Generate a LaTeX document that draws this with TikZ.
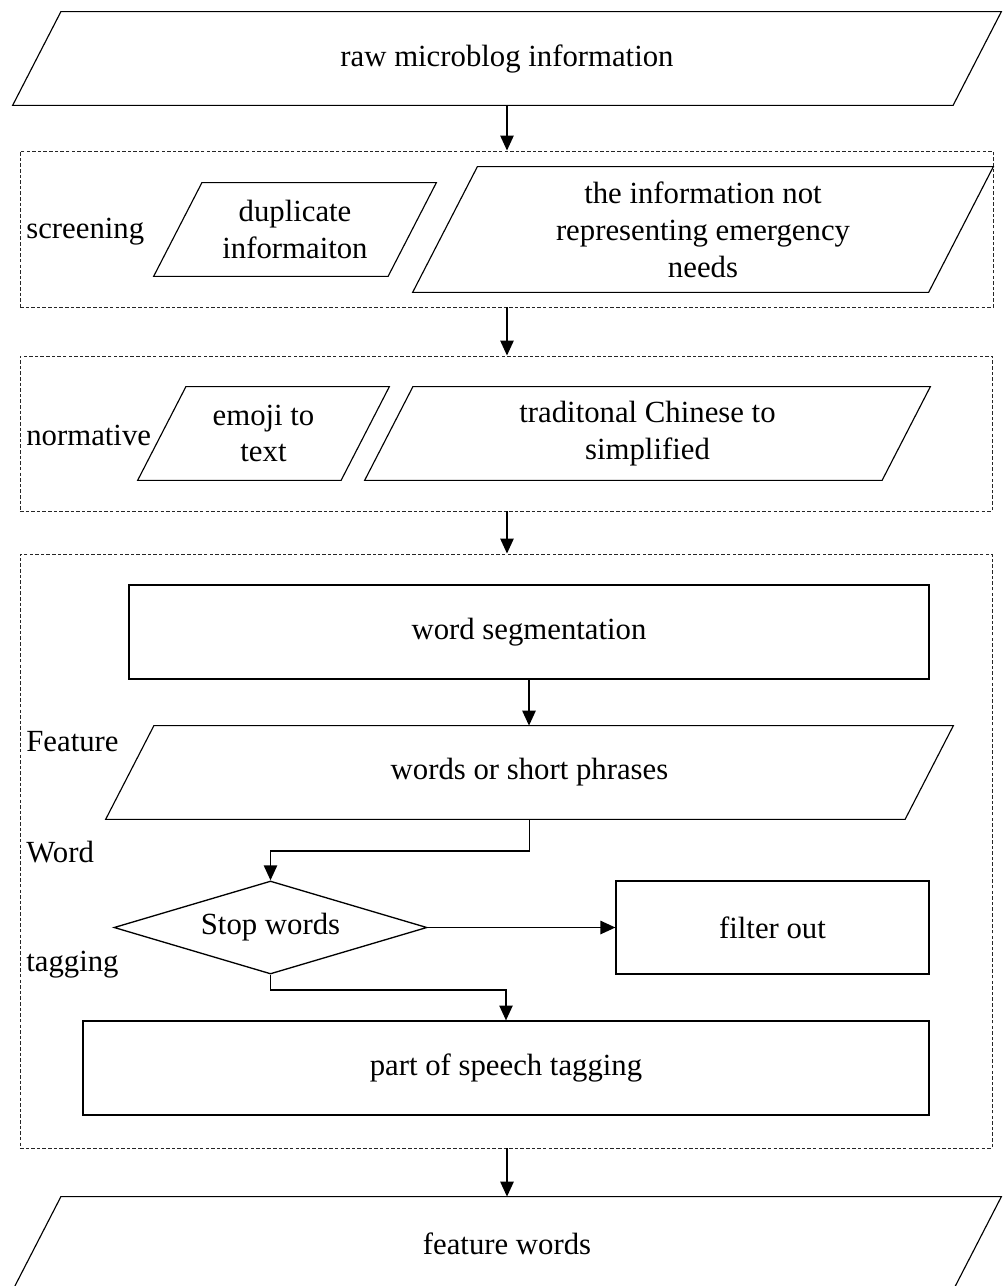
\documentclass[tikz,border=0pt]{standalone}
\usepackage{fontspec}
\setmainfont{Liberation Serif}
\usetikzlibrary{shapes.geometric, arrows.meta, positioning, calc}
\newcommand{\fsz}{\fontsize{17.5}{21}\selectfont}
% parallelogram outline round a named node (top edge shifted right)
\newcommand{\iopath}[1]{%
  \draw[ioline] (#1.south west) -- ($(#1.north west)!0.515!90:(#1.south west)$)
    -- (#1.north east) -- ($(#1.south east)!0.515!90:(#1.north east)$) -- cycle;}
\tikzset{
  iobox/.style={rectangle, minimum height=1.86cm, inner sep=2pt,
                align=center, font=\fsz},
  ioline/.style={draw=black, line width=0.65pt, line join=miter},
  procbox/.style={rectangle, draw=black, line width=0.65pt,
                  minimum height=1.88cm, align=center, font=\fsz},
  decbox/.style={diamond, draw=black, line width=0.75pt, aspect=3.4,
                 minimum width=6.26cm, minimum height=1.86cm, inner sep=0pt, font=\fsz},
  groupbox/.style={rectangle, draw=black!85, line width=0.5pt,
                   dash pattern=on 2pt off 1.2pt},
  sidelabel/.style={anchor=west, inner sep=0pt, font=\fsz},
  link/.style={-{Triangle[length=8.5pt,width=7.5pt]}, line width=1.1pt},
}
\begin{document}
\begin{tikzpicture}
  \useasboundingbox (0,0) rectangle (20.06,-25.72);

  % dashed groups
  \node[groupbox, minimum width=19.46cm, minimum height=3.12cm]  (scrgrp)  at (10.13,-4.58)  {};
  \node[groupbox, minimum width=19.44cm, minimum height=3.1cm]   (normgrp) at (10.12,-8.67)  {};
  \node[groupbox, minimum width=19.44cm, minimum height=11.88cm] (featgrp) at (10.12,-17.02) {};

  % input
  \node[iobox, minimum width=19.76cm] (raw) at (10.14,-1.17) {raw microblog information};

  % screening
  \node[sidelabel] (scrlab) at (0.52,-4.64) {screening};
  \node[iobox, minimum width=5.64cm] (dup) at (5.9,-4.59) {duplicate\\informaiton};
  \node[iobox, minimum width=11.6cm, minimum height=2.5cm]
        (noneed) at (14.06,-4.59) {the information not\\representing emergency\\needs};

  % normative
  \node[sidelabel] (normlab) at (0.52,-8.7) {normative};
  \node[iobox, minimum width=5.02cm] (emoji) at (5.27,-8.67) {emoji to\\text};
  \node[iobox, minimum width=11.3cm] (trad) at (12.95,-8.67) {traditonal Chinese to\\simplified};

  % feature word tagging
  \node[sidelabel] (featlab) at (0.52,-14.84) {Feature};
  \node[sidelabel] (wordlab) at (0.52,-17.04) {Word};
  \node[sidelabel] (taglab)  at (0.52,-19.3)  {tagging};
  \node[procbox, minimum width=16cm] (seg) at (10.58,-12.64) {word segmentation};
  \node[iobox, minimum width=16.94cm] (words) at (10.59,-15.45) {words or short phrases};
  \node[decbox] (stop) at (5.41,-18.55) {Stop words};
  \node[procbox, minimum width=6.26cm, minimum height=1.86cm] (filter) at (15.45,-18.55) {filter out};
  \node[procbox, minimum width=16.92cm] (pos) at (10.12,-21.36) {part of speech tagging};

  % output
  \node[iobox, minimum width=19.76cm] (out) at (10.14,-24.87) {feature words};

  % parallelogram outlines
  \foreach \n in {raw, dup, noneed, emoji, trad, words, out}
    {\iopath{\n}}

  % links
  \draw[link] (raw.south) -- (scrgrp.north -| raw.south);
  \draw[link] (scrgrp.south -| raw.south) -- (normgrp.north -| raw.south);
  \draw[link] (normgrp.south -| raw.south) -- (featgrp.north -| raw.south);
  \draw[link] (seg.south) -- (words.north -| seg.south);
  \draw[link] (words.south) -- ++(0,-0.64) -| (stop.north);
  \draw[link] (stop.east) -- (filter.west);
  \draw[link] (stop.south) -- ++(0,-0.3) -| (pos.north);
  \draw[link] (featgrp.south -| out.north) -- (out.north);
\end{tikzpicture}
\end{document}
